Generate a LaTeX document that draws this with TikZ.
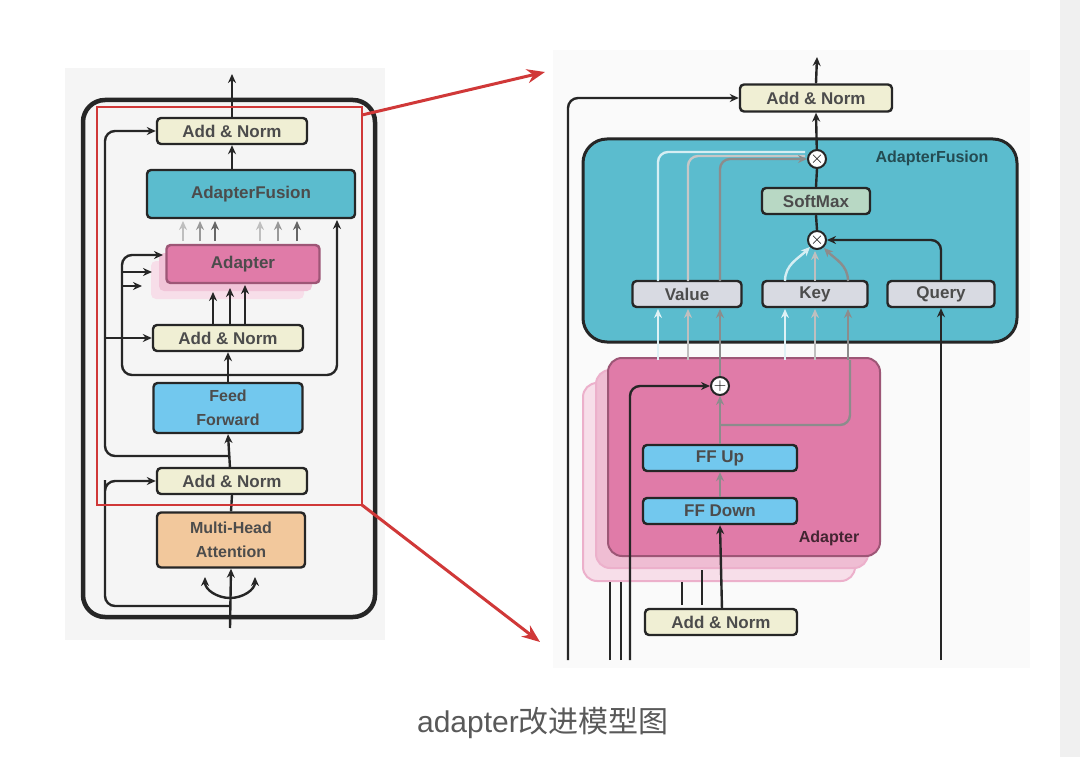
\documentclass[tikz,border=0pt]{standalone}
\usepackage{fontspec}
\setmainfont{Liberation Sans}
\newfontfamily\cjk{Noto Sans CJK SC}
\usepackage{xcolor}
\usetikzlibrary{arrows.meta}
\definecolor{normc}{HTML}{F0EFD4}
\definecolor{fusc}{HTML}{5BBCCE}
\definecolor{adpc}{HTML}{E07BA8}
\definecolor{ffc}{HTML}{72C8EE}
\definecolor{mhac}{HTML}{F2C89C}
\definecolor{smc}{HTML}{B8D8C4}
\definecolor{vkc}{HTML}{D8DAE2}
\definecolor{redc}{HTML}{D03838}
\tikzset{
  box/.style={draw=black!85,line width=2.4pt,rounded corners=4pt,font=\fontsize{17}{19}\selectfont\bfseries,text=black!70,align=center,inner sep=0pt},
  ln/.style={line width=2.4pt,black!85,rounded corners=10pt},
  gl/.style={line width=2.4pt,rounded corners=10pt},
  op/.style={circle,draw=black!85,fill=white,line width=2pt,minimum size=18pt,inner sep=0pt,font=\fontsize{16}{16}\selectfont\bfseries},
}
\begin{document}
\begin{tikzpicture}[x=1pt,y=-1pt,>={Stealth[length=9pt,width=8pt]}]
\useasboundingbox (0,0) rectangle (1080,757);
\fill[white] (0,0) rectangle (1080,757);
\fill[black!6] (1060,0) rectangle (1080,757);
% left panel
\fill[black!4] (65,68) rectangle (385,640);
\draw[line width=4.5pt,black!85,rounded corners=22pt] (83,100) rectangle (375,617);
\node[box,fill=normc,minimum width=150pt,minimum height=26pt] (lnT) at (232,131) {Add \& Norm};
\node[box,fill=fusc,minimum width=208pt,minimum height=48pt] (lfus) at (251,194) {AdapterFusion};
\foreach \d/\c in {16/adpc!25,8/adpc!45}
  \fill[\c,rounded corners=5pt] (167-\d,245+\d) rectangle (320-\d,283+\d);
\node[box,draw=adpc!70!black,fill=adpc,minimum width=153pt,minimum height=38pt] (ladp) at (243,264) {Adapter};
\node[box,fill=normc,minimum width=150pt,minimum height=26pt] (lnM) at (228,338) {Add \& Norm};
\node[box,fill=ffc,minimum width=149pt,minimum height=50pt,font=\fontsize{16}{24}\selectfont\bfseries] (lff) at (228,408) {Feed\\Forward};
\node[box,fill=normc,minimum width=150pt,minimum height=26pt] (lnB) at (232,481) {Add \& Norm};
\node[box,fill=mhac,minimum width=148pt,minimum height=55pt,font=\fontsize{16}{24}\selectfont\bfseries] (lmha) at (231,540) {Multi-Head\\Attention};
\coordinate (lin) at (230,628);
\coordinate (lout) at (232,74);
\draw[ln,->] (lin) -- (lmha.south);
\draw[ln,->] (230,598) to[out=180,in=270] (205,577);
\draw[ln,->] (230,598) to[out=0,in=270] (255,577);
\draw[ln] (lmha.north) -- (lnB.south);
\draw[ln,->] (230,606) -| (105,490) |- (lnB.west);
\draw[ln,->] (230,468) -- (lff.south);
\draw[ln,->] (230,456) -| (105,338) |- (lnT.west);
\draw[ln,->] (105,338) -- (lnM.west);
\draw[ln,->] (lff.north) -- (lnM.south);
\draw[ln,->] (230,375) -| (122,255) -- (163,255);
\draw[ln,->] (122,272) -- (152,272);
\draw[ln,->] (122,286) -- (142,286);
\draw[ln,->] (230,375) -| (337,220);
\foreach \x/\y in {213/292,230/288,245/285}
  \draw[ln,->] (\x,325) -- (\x,\y);
\foreach \x/\c in {183/black!25,200/black!40,215/black!60,260/black!25,278/black!40,297/black!60}
  \draw[gl,\c,->] (\x,241) -- (\x,221);
\draw[ln,->] (232,170) -- (lnT.south);
\draw[ln,->] (lnT.north) -- (lout);
\draw[redc,line width=2pt] (97,107) rectangle (362,505);
% right panel
\fill[black!2] (553,50) rectangle (1030,668);
\node[box,fill=normc,minimum width=152pt,minimum height=27pt] (rnT) at (816,98) {Add \& Norm};
\draw[line width=3pt,black!85,rounded corners=24pt,fill=fusc] (583,139) rectangle (1017,342);
\node[font=\fontsize{16}{16}\selectfont\bfseries,text=fusc!40!black] (rfl) at (932,158) {AdapterFusion};
\node[op] (mulT) at (817,159) {$\times$};
\node[box,fill=smc,minimum width=108pt,minimum height=26pt] (rsm) at (816,201) {SoftMax};
\node[op] (mulB) at (817,240) {$\times$};
\node[box,fill=vkc,minimum width=109pt,minimum height=26pt] (rval) at (687,294) {Value};
\node[box,fill=vkc,minimum width=105pt,minimum height=26pt] (rkey) at (815,294) {Key};
\node[box,fill=vkc,minimum width=107pt,minimum height=26pt] (rqry) at (941,294) {Query};
\foreach \d/\c in {25/adpc!25,12/adpc!50}
  \draw[adpc!60,line width=2pt,fill=\c,rounded corners=14pt] (608-\d,358+\d) rectangle (880-\d,556+\d);
\draw[adpc!70!black,line width=2pt,fill=adpc,rounded corners=14pt] (608,358) rectangle (880,556);
\node[font=\fontsize{16}{16}\selectfont\bfseries,text=adpc!30!black] (radl) at (829,538) {Adapter};
\node[op] (add) at (720,386) {$+$};
\node[box,fill=ffc,minimum width=154pt,minimum height=26pt] (rup) at (720,458) {FF Up};
\node[box,fill=ffc,minimum width=154pt,minimum height=26pt] (rdn) at (720,511) {FF Down};
\node[box,fill=normc,minimum width=152pt,minimum height=26pt] (rnB) at (721,622) {Add \& Norm};
\coordinate (rout) at (817,57);
\draw[ln,->] (rnT.north) -- (rout);
\draw[ln,->] (mulT) -- (rnT.south);
\draw[ln] (rsm.north) -- (mulT.south);
\draw[ln] (mulB.north) -- (rsm.south);
\draw[ln,->] (941,660) -- (rqry.south);
\draw[ln,->] (rqry.north) |- (mulB.east);
\draw[ln,->] (568,660) |- (rnT.west);
\draw[ln,->] (630,660) |- (add.west);
\foreach \x in {610,621}
  \draw[ln] (\x,660) -- (\x,582);
\draw[ln] (682,605) -- (682,582);
\draw[ln] (702,605) -- (702,570);
\draw[ln,->] (722,609) -- (rdn.south);
\draw[gl,black!45,->] (rdn.north) -- (rup.south);
\draw[gl,black!45,->] (rup.north) -- (add.south);
\draw[gl,black!45] (720,425) -| (850,360);
\draw[gl,black!45,->] (add.north) -- (720,309);
\foreach \x/\c in {658/white!80!fusc,688/black!25,785/white!80!fusc,815/black!25,848/black!45}
  \draw[gl,\c,->] (\x,360) -- (\x,309);
\draw[gl,white!75!fusc] (658,281) |- (805,152);
\draw[gl,black!22] (688,281) |- (805,156);
\draw[gl,black!45,->] (720,281) |- (mulT.west);
\draw[gl,white!75!fusc,->] (785,281) to[out=90,in=225] (810,247);
\draw[gl,black!25,->] (815,281) -- (815,251);
\draw[gl,black!45,->] (848,281) to[out=90,in=315] (824,248);
% zoom arrows
\draw[redc,line width=3pt,-{Stealth[length=18pt,width=14pt]}] (362,115) -- (545,72);
\draw[redc,line width=3pt,-{Stealth[length=18pt,width=14pt]}] (362,505) -- (540,642);
\node[font=\fontsize{30}{30}\selectfont,text=black!65] (cap) at (543,723) {adapter{\cjk 改进模型图}};
\end{tikzpicture}
\end{document}
